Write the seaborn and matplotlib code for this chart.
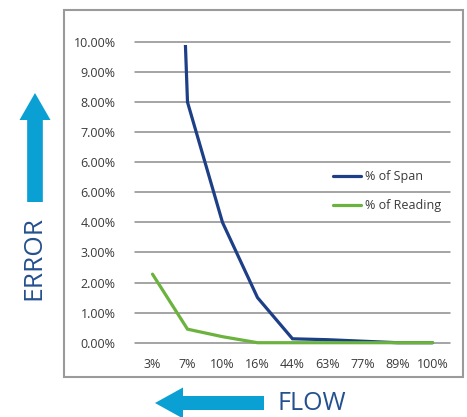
import numpy as np
import pandas as pd
import matplotlib
matplotlib.use("Agg")
import matplotlib.pyplot as plt
from matplotlib.patches import Rectangle, FancyArrow
import seaborn as sns

flow_labels = ["3%", "7%", "10%", "16%", "44%", "63%", "77%", "89%", "100%"]
span_values = [40.0, 8.0, 4.0, 1.5, 0.13, 0.10, 0.05, 0.0, 0.0]
reading_values = [2.28, 0.45, 0.2, 0.0, 0.0, 0.0, 0.0, 0.0, 0.0]
series_names = ["% of Span", "% of Reading"]
ytick_values = [0, 1, 2, 3, 4, 5, 6, 7, 8, 9, 10]
ytick_labels = ["0.00%", "1.00%", "2.00%", "3.00%", "4.00%", "6.00%",
                "6.00%", "7.00%", "8.00%", "9.00%", "10.00%"]

sns.set_theme(style="white")
plt.rcParams['font.family'] = ['Open Sans', 'DejaVu Sans']

W, H = 467, 417
fig = plt.figure(figsize=(W / 100, H / 100), dpi=100)

def fx(px):
    return px / W

def fy(py):
    return 1 - py / H

ax = fig.add_axes([fx(135), fy(342.7), fx(450) - fx(135), fy(42) - fy(342.7)])

idx = np.arange(len(flow_labels))
df = pd.DataFrame({
    "pos": np.concatenate([idx, idx]),
    "value": span_values + reading_values,
    "series": [series_names[0]] * len(idx) + [series_names[1]] * len(idx),
})

sns.lineplot(data=df, x="pos", y="value", hue="series", hue_order=series_names,
             palette=["#1d3f87", "#6bb33e"], linewidth=2.3, ax=ax, legend=True,
             estimator=None, sort=False)

clip = Rectangle((-1, -1), 20, 10.9, transform=ax.transData)
for ln in ax.lines:
    ln.set_clip_path(clip)
    ln.set_solid_joinstyle("miter")

ax.set_xlim(-0.5, len(flow_labels) - 0.5)
ax.set_ylim(0, 10)
ax.set_xticks(idx)
ax.set_xticklabels(flow_labels)
ax.set_yticks(ytick_values)
ax.set_yticklabels(ytick_labels)
ax.tick_params(axis="both", length=0, labelsize=9, labelcolor="#3a3a3a")
ax.tick_params(axis="x", pad=11)
ax.tick_params(axis="y", pad=14)
ax.set_xlabel("")
ax.set_ylabel("")
for s in ax.spines.values():
    s.set_visible(False)
ax.grid(False)
for yv in ytick_values:
    ax.axhline(yv, color="#8c8c8c", linewidth=1.1, zorder=0, clip_on=False)
ax.patch.set_alpha(0)

handles, labels = ax.get_legend_handles_labels()
leg = ax.legend(handles, labels, loc="upper left",
                bbox_to_anchor=(fx(328), fy(165)), bbox_transform=fig.transFigure,
                frameon=False, fontsize=9, handlelength=2.2, handletextpad=0.35,
                labelspacing=1.3, borderaxespad=0)
for t in leg.get_texts():
    t.set_color("#3a3a3a")
for lh in leg.get_lines():
    lh.set_linewidth(2.3)

# outer frame
fig.patches.append(Rectangle((fx(64), fy(377)), fx(463) - fx(64), fy(10) - fy(377),
                             transform=fig.transFigure, fill=False,
                             edgecolor="#9a9a9a", linewidth=1.5))

arrow_color = "#0aa0d4"
text_color = "#24508f"
# up arrow (ERROR)
fig.patches.append(FancyArrow(fx(35), fy(202), 0, fy(93) - fy(202),
                              width=fy(0) - fy(14), head_width=fx(31),
                              head_length=fy(93) - fy(120),
                              length_includes_head=True, transform=fig.transFigure,
                              color=arrow_color, linewidth=0))
fig.text(fx(34), fy(258.5), "ERROR", rotation=90, ha="center", va="center",
         fontsize=19, color=text_color)
# left arrow (FLOW)
fig.patches.append(FancyArrow(fx(264), fy(403), fx(155) - fx(264), 0,
                              width=fy(0) - fy(14), head_width=fy(0) - fy(31),
                              head_length=fx(183) - fx(155),
                              length_includes_head=True, transform=fig.transFigure,
                              color=arrow_color, linewidth=0))
fig.text(fx(277), fy(410.5), "FLOW", ha="left", va="baseline",
         fontsize=18, color=text_color)

fig.savefig("out.png", dpi=100)
